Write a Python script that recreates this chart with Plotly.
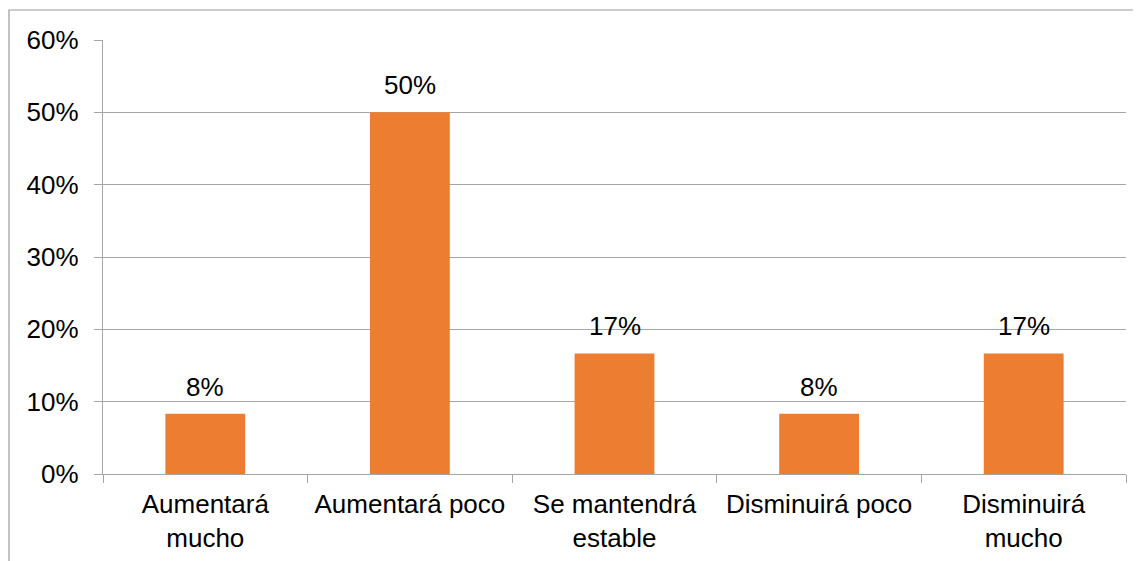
import plotly.graph_objects as go

categories = ["Aumentará<br>mucho", "Aumentará poco", "Se mantendrá<br>estable",
              "Disminuirá poco", "Disminuirá<br>mucho"]
values = [0.0833, 0.50, 0.1667, 0.0833, 0.1667]
y_ticks = [0, 0.1, 0.2, 0.3, 0.4, 0.5, 0.6]
y_tick_labels = ["0%", "10%", "20%", "30%", "40%", "50%", "60%"]

FONT = "Liberation Sans, Arial, sans-serif"
GRID = "#a6a6a6"
FS = 26

W, H = 1141, 561
# page body has an 8px default margin; compensate
ML, MR, MT, MB = 95, 23, 32, 95
pw = W - ML - MR
ph = H - MT - MB

fig = go.Figure(go.Bar(
    x=categories, y=values,
    marker=dict(color="#ED7D31", line=dict(width=0)),
    hoverinfo="skip",
))

for c, v in zip(categories, values):
    fig.add_annotation(x=c, y=v, text=f"{v*100:.0f}%", showarrow=False,
                       yanchor="bottom", yshift=10,
                       font=dict(family=FONT, size=FS, color="#000000"))

# outer chart border
fig.add_shape(type="rect", xref="paper", yref="paper",
              x0=(1 - ML) / pw, x1=(W + 10 - ML) / pw,
              y0=-(H + 10 - MT - ph) / ph, y1=1 + (MT - 2) / ph,
              line=dict(color="#9a9a9a", width=1.2), fillcolor="rgba(0,0,0,0)",
              layer="below")

fig.update_layout(
    width=W, height=H,
    margin=dict(l=ML, r=MR, t=MT, b=MB, autoexpand=False),
    paper_bgcolor="white", plot_bgcolor="white",
    bargap=0.61,
    showlegend=False,
    font=dict(family=FONT, size=FS, color="#000000"),
    xaxis=dict(
        showgrid=False, showline=True, linecolor=GRID, linewidth=1.3,
        ticks="outside", tickson="boundaries", ticklen=8, tickcolor=GRID,
        tickfont=dict(family=FONT, size=FS, color="#000000"),
        ticklabelstandoff=7,
        fixedrange=True, automargin=False,
    ),
    yaxis=dict(
        range=[0, 0.6], tickvals=y_ticks, ticktext=y_tick_labels,
        showgrid=True, gridcolor=GRID, gridwidth=1.3,
        showline=True, linecolor=GRID, linewidth=1.3,
        ticks="outside", ticklen=8, tickcolor=GRID,
        tickfont=dict(family=FONT, size=FS, color="#000000"),
        ticklabelstandoff=10,
        zeroline=False, fixedrange=True, automargin=False,
    ),
)

fig.write_html("out.html")
